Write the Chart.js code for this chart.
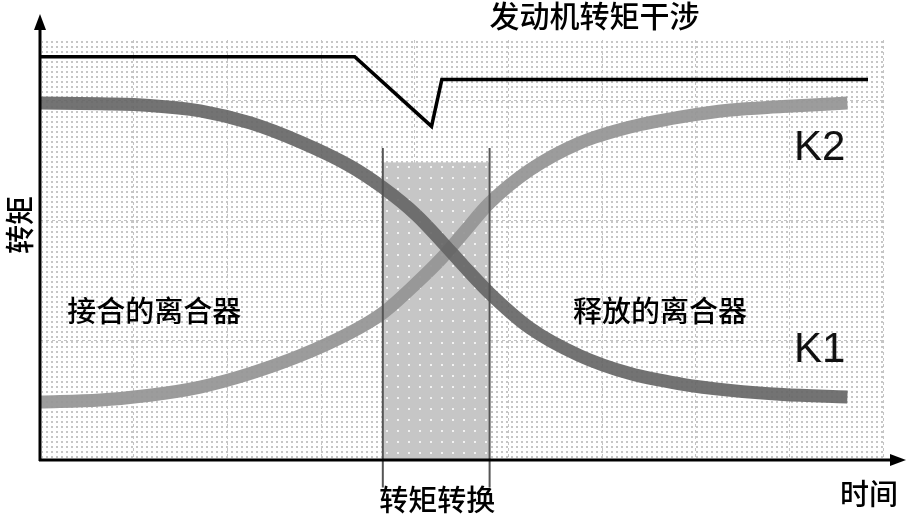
<!DOCTYPE html>
<html><head><meta charset="utf-8">
<script src="https://cdn.jsdelivr.net/npm/chart.js@4.4.1/dist/chart.umd.min.js"></script>
<style>html,body{margin:0;padding:0;background:#fff;overflow:hidden}</style>
</head><body>
<canvas id="c" width="908" height="520" style="width:908px;height:520px;display:block"></canvas>
<script>
// ---- data ----
const timePoints   = [0, 0.64, 1.17, 1.71, 2.24, 2.78, 3.31, 3.66, 4.02, 4.3, 4.52, 4.8, 5.23, 5.76, 6.3, 6.83, 7.37, 7.93, 8.62];
const k1Torque     = [2.975, 2.968, 2.955, 2.91, 2.81, 2.65, 2.45, 2.27, 2.04, 1.81, 1.62, 1.39, 1.1, 0.87, 0.72, 0.635, 0.58, 0.545, 0.525];
const k2Torque     = [0.483, 0.5, 0.54, 0.608, 0.72, 0.87, 1.06, 1.225, 1.475, 1.692, 1.892, 2.142, 2.417, 2.642, 2.775, 2.858, 2.917, 2.945, 2.975];
const engineTime   = [0, 3.36, 4.18, 4.29, 8.84];
const engineTorque = [3.36, 3.36, 2.78, 3.17, 3.17];
const transitionWindow = [3.66, 4.8];
const transitionLevel  = 2.48;
const xGridTicks = [0, 1, 2, 3, 4, 5, 6, 7, 8, 9];
const yGridTicks = [1, 2, 3];
const labels = {
  title: '发动机转矩干涉', yAxis: '转矩', xAxis: '时间',
  engaged: '接合的离合器', released: '释放的离合器',
  transition: '转矩转换', k1: 'K1', k2: 'K2'
};

const CJK = '"Noto Sans CJK SC", "Noto Sans", sans-serif';
const LAT = '"Liberation Sans", Arial, sans-serif';

function makeDots(bg, dot, size, step) {
  const p = document.createElement('canvas');
  p.width = step; p.height = step;
  const g = p.getContext('2d');
  if (bg) { g.fillStyle = bg; g.fillRect(0, 0, step, step); }
  g.fillStyle = dot; g.fillRect(1, 1, size, size);
  return p;
}

const decor = {
  id: 'decor',
  beforeDraw(chart) {
    const {ctx, chartArea: a} = chart;
    ctx.save();
    ctx.fillStyle = ctx.createPattern(makeDots('#ffffff', '#c6c6c6', 2, 5), 'repeat');
    ctx.fillRect(a.left + 2, a.top, a.right - a.left - 2, a.bottom - a.top);
    ctx.restore();
  },
  beforeDatasetsDraw(chart) {
    const {ctx, scales: {x, y}} = chart;
    const x0 = x.getPixelForValue(transitionWindow[0]);
    const x1 = x.getPixelForValue(transitionWindow[1]);
    const yt = y.getPixelForValue(transitionLevel);
    const yb = y.getPixelForValue(0);
    ctx.save();
    ctx.fillStyle = ctx.createPattern(makeDots('#c6c6c6', '#f2f2f2', 2, 11), 'repeat');
    ctx.fillRect(x0, yt, x1 - x0, yb - yt);
    ctx.restore();
  },
  afterDatasetsDraw(chart) {
    const {ctx, scales: {x, y}, chartArea: a} = chart;
    const px = v => x.getPixelForValue(v), py = v => y.getPixelForValue(v);
    ctx.save();
    // transition boundary lines
    ctx.strokeStyle = '#555'; ctx.lineWidth = 2;
    transitionWindow.forEach(t => {
      ctx.beginPath(); ctx.moveTo(px(t), py(2.6)); ctx.lineTo(px(t), py(-0.23)); ctx.stroke();
    });
    // axes with arrows
    const ox = a.left, oy = a.bottom;
    ctx.strokeStyle = '#000'; ctx.fillStyle = '#000'; ctx.lineWidth = 3;
    ctx.beginPath(); ctx.moveTo(ox, oy + 1); ctx.lineTo(ox, 26); ctx.stroke();
    ctx.beginPath(); ctx.moveTo(ox - 6, 30); ctx.lineTo(ox, 14); ctx.lineTo(ox + 6, 30); ctx.closePath(); ctx.fill();
    ctx.beginPath(); ctx.moveTo(ox - 1, oy); ctx.lineTo(chart.width - 12, oy); ctx.stroke();
    ctx.beginPath(); ctx.moveTo(chart.width - 18, oy - 6); ctx.lineTo(chart.width - 2, oy); ctx.lineTo(chart.width - 18, oy + 6); ctx.closePath(); ctx.fill();
    // texts
    ctx.fillStyle = '#000'; ctx.textBaseline = 'middle'; ctx.textAlign = 'center';
    ctx.font = '500 30px ' + CJK;
    ctx.fillText(labels.title, px(5.92), 16);
    ctx.font = '500 29px ' + CJK;
    ctx.fillText(labels.engaged, px(1.22), py(1.24));
    ctx.fillText(labels.released, px(6.62), py(1.24));
    ctx.fillText(labels.transition, px(4.24), 500);
    ctx.fillText(labels.xAxis, chart.width - 39, 494);
    ctx.save();
    ctx.translate(20, 225); ctx.rotate(-Math.PI / 2);
    ctx.fillText(labels.yAxis, 0, 0);
    ctx.restore();
    ctx.font = '42px ' + LAT; ctx.textAlign = 'left'; ctx.fillStyle = '#111';
    ctx.fillText(labels.k2, px(8.05), py(2.6));
    ctx.fillText(labels.k1, px(8.05), py(0.91));
    ctx.restore();
  }
};

const gridOpts = {color: '#c4c4c4', lineWidth: 1, drawTicks: false, tickLength: 0};
new Chart(document.getElementById('c'), {
  type: 'line',
  data: {
    datasets: [
      {label: 'K1', data: timePoints.map((t, i) => ({x: t, y: k1Torque[i]})),
       borderColor: 'rgba(100,100,100,0.9)', borderWidth: 13, cubicInterpolationMode: 'monotone', pointRadius: 0, borderCapStyle: 'butt'},
      {label: 'K2', data: timePoints.map((t, i) => ({x: t, y: k2Torque[i]})),
       borderColor: 'rgba(148,148,148,0.92)', borderWidth: 13, cubicInterpolationMode: 'monotone', pointRadius: 0, borderCapStyle: 'butt'},
      {label: 'engine', data: engineTime.map((t, i) => ({x: t, y: engineTorque[i]})),
       borderColor: '#000', borderWidth: 3.5, tension: 0, pointRadius: 0, borderJoinStyle: 'miter'}
    ]
  },
  options: {
    responsive: false, animation: false, devicePixelRatio: 1,
    layout: {padding: {left: 40, right: 25, top: 40, bottom: 60}},
    plugins: {legend: {display: false}, tooltip: {enabled: false}, title: {display: false}},
    scales: {
      x: {type: 'linear', min: 0, max: 9,
          afterBuildTicks: s => { s.ticks = xGridTicks.map(v => ({value: v})); },
          ticks: {display: false}, grid: gridOpts, border: {display: false, dash: [3, 3]}},
      y: {type: 'linear', min: 0, max: 3.5,
          afterBuildTicks: s => { s.ticks = yGridTicks.map(v => ({value: v})); },
          ticks: {display: false}, grid: gridOpts, border: {display: false, dash: [3, 3]}}
    }
  },
  plugins: [decor]
});
</script>
</body></html>
